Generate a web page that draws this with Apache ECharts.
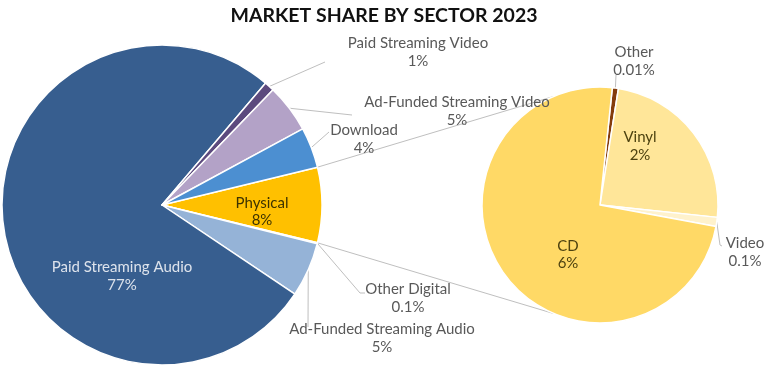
<!DOCTYPE html>
<html><head><meta charset="utf-8">
<script src="https://cdn.jsdelivr.net/npm/echarts@6/dist/echarts.min.js"></script>
<style>html,body{margin:0;padding:0;background:#fff}#c{width:768px;height:367px}</style>
</head><body><div id="c"></div>
<script>
// ---- data ----
const mainCategories = ['Physical','Other Digital','Ad-Funded Streaming Audio','Paid Streaming Audio','Paid Streaming Video','Ad-Funded Streaming Video','Download'];
const mainValues = [7.6, 0.1, 5.5, 76.9, 1.0, 4.9, 4.1];
const mainLabels = ['8%','0.1%','5%','77%','1%','5%','4%'];
const physicalCategories = ['Other','Vinyl','Video','CD'];
const physicalValues = [0.01, 1.95, 0.1, 5.95];
const physicalLabels = ['0.01%','2%','0.1%','6%'];

// ---- styling / layout ----
const mainColors = ['#ffc000','#c6d9f1','#95b3d7','#375e8f','#5c4a7e','#b3a2c7','#4c8fd1'];
const subColors = ['#843c0c','#ffe699','#fff2cc','#ffd966'];
const MAIN = {cx:162, cy:205, r:160};
const SUB = {cx:600, cy:205, r:118, start:84};
const FONT = 'Lato, "Open Sans", sans-serif';
const GREY = '#595959';
const LINE = '#bfbfbf';
const labelPos = {
  'Paid Streaming Video': {x:418, y:34.5, pts:[[325,62],[325,62]]},
  'Ad-Funded Streaming Video': {x:457, y:93.5, pts:[[352,115],[352,115]]},
  'Download': {x:364, y:121.5, pts:[[329,132],[329,132]]},
  'Other Digital': {x:408, y:280.5, pts:[[360,293],[365,293]]},
  'Ad-Funded Streaming Audio': {x:382, y:320.5, pts:[[308,327],[308,327]]},
  'Paid Streaming Audio': {x:122, y:276, inside:true, color:'#dde3ec'},
  'Physical': {x:262, y:211.5, inside:true, color:'#3d3300'},
  'Other': {x:634, y:43.5, pts:[[616,75],[616,75]]},
  'Video': {x:745, y:234.5, pts:[[720,245],[722,246]]},
  'Vinyl': {x:640, y:146, inside:true, color:'#4d4210'},
  'CD': {x:568, y:254.5, inside:true, color:'#4d4210'}
};

function buildData(cats, vals, labels, colors){
  return cats.map((c,i)=>{
    const p = labelPos[c] || {};
    return {
      name: c, value: vals[i],
      itemStyle:{color: colors[i]},
      label:{
        show:true,
        position: p.inside ? 'inside' : 'outside',
        formatter: c + '\n' + labels[i],
        color: p.color || GREY
      },
      labelLine:{show: !p.inside}
    };
  });
}
function makeLayout(cats){
  return function(params){
    const p = labelPos[cats[params.dataIndex]];
    if(!p) return {};
    const res = {x:p.x, y:p.y, align:'center', verticalAlign: p.inside ? 'middle' : 'top'};
    if(p.pts && params.labelLinePoints){
      res.labelLinePoints = [params.labelLinePoints[0]].concat(p.pts);
    }
    return res;
  };
}

const mainTotal = mainValues.reduce((a,b)=>a+b,0);
const mainStart = mainValues[0]/mainTotal*180;

function pt(c, r, deg){ const a = deg*Math.PI/180; return [c.cx + r*Math.cos(a), c.cy - r*Math.sin(a)]; }
const topA = pt(MAIN, MAIN.r, mainStart), topB = pt(SUB, SUB.r, 113);
const botA = pt(MAIN, MAIN.r, -mainStart), botB = pt(SUB, SUB.r, -113);

const labelCommon = {fontFamily: FONT, fontSize: 15, lineHeight: 17.5};

const chart = echarts.init(document.getElementById('c'), null, {renderer:'canvas'});
chart.setOption({
  animation:false,
  backgroundColor:'#fff',
  title:{text:'MARKET SHARE BY SECTOR 2023', left:379, top:1, textAlign:'center',
    textStyle:{fontFamily:FONT, fontWeight:'bold', fontSize:19.5, color:'#111'}},
  graphic:[
    {type:'line', shape:{x1:topA[0], y1:topA[1], x2:topB[0], y2:topB[1]}, style:{stroke:LINE, lineWidth:1}, z:0},
    {type:'line', shape:{x1:botA[0], y1:botA[1], x2:botB[0], y2:botB[1]}, style:{stroke:LINE, lineWidth:1}, z:0}
  ],
  series:[
    {
      type:'pie', center:[MAIN.cx, MAIN.cy], radius:[0, MAIN.r],
      startAngle: mainStart, clockwise:true, avoidLabelOverlap:false,
      itemStyle:{borderColor:'#fff', borderWidth:1.5},
      label:Object.assign({}, labelCommon),
      labelLine:{lineStyle:{color:LINE, width:1}, length:10, length2:10},
      labelLayout: makeLayout(mainCategories),
      emphasis:{disabled:true},
      data: buildData(mainCategories, mainValues, mainLabels, mainColors)
    },
    {
      type:'pie', center:[SUB.cx, SUB.cy], radius:[0, SUB.r],
      startAngle: SUB.start, clockwise:true, avoidLabelOverlap:false, minAngle:3,
      itemStyle:{borderColor:'#fff', borderWidth:1.5},
      label:Object.assign({}, labelCommon),
      labelLine:{lineStyle:{color:LINE, width:1}, length:10, length2:10},
      labelLayout: makeLayout(physicalCategories),
      emphasis:{disabled:true},
      data: buildData(physicalCategories, physicalValues, physicalLabels, subColors)
    }
  ]
});
</script></body></html>
